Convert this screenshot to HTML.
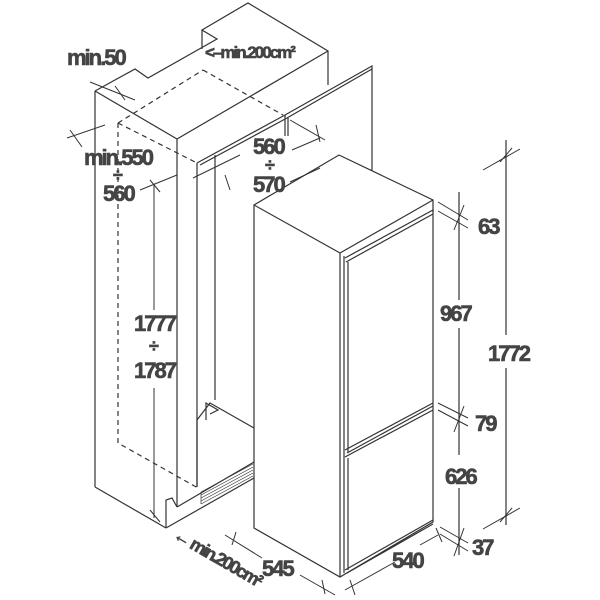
<!DOCTYPE html>
<html><head><meta charset="utf-8"><style>
html,body{margin:0;padding:0;background:#fff;width:600px;height:600px;overflow:hidden}
svg text{font-family:"Liberation Sans",sans-serif;font-weight:bold;fill:#444;stroke:#444;stroke-width:0.6;letter-spacing:-2px}
</style></head><body>
<svg width="600" height="600" viewBox="0 0 600 600" xmlns="http://www.w3.org/2000/svg">
<g fill="none" stroke="#333" stroke-width="1.2">
<polyline points="95,91 135,69 148,78 217,39 202,30 248,3 328,51 328,85"/>
<line x1="202" y1="30" x2="202" y2="49"/>
<line x1="95" y1="91" x2="177" y2="139"/>
<line x1="177" y1="139" x2="328" y2="51"/>
<line x1="95" y1="91" x2="95" y2="487"/>
<line x1="95" y1="487" x2="166" y2="528"/>
<line x1="177" y1="139" x2="177" y2="507"/>
<line x1="197" y1="163" x2="197" y2="487"/>
<line x1="215" y1="155" x2="215" y2="400"/>
<polyline points="197,163 285,115 372,66 372,210"/>
<line x1="200" y1="165" x2="287" y2="118"/>
<line x1="287" y1="118" x2="372" y2="69"/>
<line x1="285" y1="115" x2="285" y2="136"/>
<line x1="288" y1="118" x2="288" y2="136"/>
<polyline points="166,528 166,500 172,498 177,507"/>
<line x1="166" y1="528" x2="254" y2="478"/>
<line x1="177" y1="507" x2="254" y2="462"/>
<polyline points="197,487 197,420 210,403 254,428"/>
<polyline points="206,420 206,403 218,410 210,414"/>
<g stroke-width="0.7">
<line x1="201" y1="492" x2="253" y2="464"/><line x1="201" y1="495" x2="253" y2="467"/>
<line x1="201" y1="498" x2="253" y2="470"/><line x1="201" y1="501" x2="253" y2="473"/>
<line x1="201" y1="504" x2="253" y2="476"/><line x1="201" y1="492" x2="201" y2="504"/>
</g>
<g stroke-dasharray="5,4">
<polyline points="118,123 118,443 198,488"/>
<line x1="118" y1="123" x2="203" y2="70"/>
<line x1="203" y1="70" x2="283" y2="115"/>
<line x1="118" y1="123" x2="197" y2="163"/>
</g>
<polygon fill="#fff" points="254,205 339,155 433,200 433,522 340,577 254,528"/>
<line x1="254" y1="205" x2="340" y2="253"/>
<line x1="340" y1="253" x2="340" y2="577"/>
<line x1="340" y1="253" x2="433" y2="200"/>
<line x1="344" y1="256" x2="344" y2="573"/>
<polyline points="345,258 433,210 433,212"/>
<line x1="346" y1="262" x2="433" y2="214"/>
<line x1="348" y1="262" x2="348" y2="452"/>
<line x1="345" y1="450" x2="433" y2="403"/>
<line x1="347" y1="453" x2="433" y2="406"/>
<line x1="345" y1="457" x2="433" y2="410"/>
<line x1="348" y1="458" x2="348" y2="570"/>
<line x1="345" y1="570" x2="433" y2="520"/>
<line x1="347" y1="573" x2="433" y2="524"/>
<line x1="459" y1="192" x2="459" y2="300"/>
<line x1="459" y1="328" x2="459" y2="455"/>
<line x1="459" y1="488" x2="459" y2="555"/>
<line x1="506" y1="140" x2="506" y2="335"/>
<line x1="506" y1="368" x2="506" y2="525"/>
<g stroke-width="1">
<line x1="438" y1="202" x2="468" y2="220"/><line x1="438" y1="211" x2="468" y2="228"/>
<line x1="454" y1="230" x2="464" y2="205"/>
<line x1="438" y1="403" x2="468" y2="418"/><line x1="438" y1="410" x2="468" y2="426"/>
<line x1="454" y1="432" x2="464" y2="406"/>
<line x1="440" y1="527" x2="468" y2="543"/><line x1="440" y1="534" x2="468" y2="551"/>
<line x1="454" y1="556" x2="464" y2="528"/>
<line x1="483" y1="170" x2="520" y2="149"/><line x1="500" y1="162" x2="512" y2="148"/>
<line x1="483" y1="529" x2="520" y2="508"/><line x1="500" y1="522" x2="512" y2="508"/>
<line x1="225" y1="535" x2="262" y2="558"/><line x1="300" y1="575" x2="335" y2="595"/>
<line x1="236" y1="532" x2="232" y2="545"/><line x1="322" y1="580" x2="325" y2="594"/>
<line x1="345" y1="590" x2="395" y2="562"/><line x1="350" y1="580" x2="355" y2="595"/>
<line x1="438" y1="535" x2="420" y2="545"/><line x1="436" y1="528" x2="442" y2="542"/>
<line x1="154" y1="185" x2="154" y2="310"/><line x1="154" y1="388" x2="154" y2="518"/>
<line x1="150" y1="510" x2="160" y2="522"/>
<line x1="67" y1="138" x2="105" y2="125"/><line x1="70" y1="130" x2="82" y2="147"/>
<line x1="140" y1="190" x2="177" y2="175"/><line x1="150" y1="180" x2="160" y2="192"/>
<line x1="193" y1="178" x2="240" y2="155"/><line x1="225" y1="175" x2="230" y2="190"/>
<line x1="90" y1="82" x2="135" y2="100"/><line x1="115" y1="86" x2="125" y2="100"/>
<line x1="290" y1="120" x2="325" y2="140"/><line x1="316" y1="125" x2="320" y2="142"/>
<line x1="292" y1="150" x2="320" y2="138"/><line x1="290" y1="182" x2="320" y2="168"/>
</g>
</g>
<g font-size="22">
<text x="67" y="65">min.50</text>
<text x="205" y="58" font-size="17">&lt;–min.200cm²</text>
<text x="84" y="165" font-size="22">min.550</text>
<text x="113" y="181" font-size="18">÷</text>
<text x="103" y="201">560</text>
<text x="253" y="154">560</text>
<text x="265" y="171" font-size="18">÷</text>
<text x="253" y="192">570</text>
<text x="134" y="331">1777</text>
<text x="149" y="352" font-size="18">÷</text>
<text x="134" y="378">1787</text>
<text x="478" y="234">63</text>
<text x="440" y="321">967</text>
<text x="488" y="361">1772</text>
<text x="475" y="431">79</text>
<text x="445" y="484">626</text>
<text x="472" y="555">37</text>
<text x="262" y="576">545</text>
<text x="392" y="568">540</text>
<text transform="translate(172,538) rotate(30)" font-size="18">← min.200cm²</text>
</g>
</svg>
</body></html>
